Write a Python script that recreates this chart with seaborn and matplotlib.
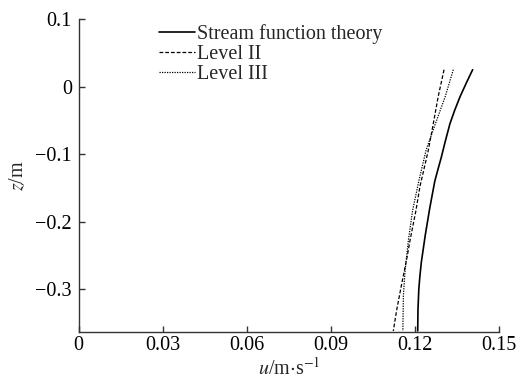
import matplotlib
matplotlib.use("Agg")
import matplotlib.pyplot as plt
import seaborn as sns
import pandas as pd

# Horizontal velocity profiles u(z) under the wave crest
z_stream = [0.025, 0.005, -0.015, -0.035, -0.055, -0.080, -0.105, -0.120, -0.140, -0.160,
            -0.180, -0.200, -0.220, -0.240, -0.260, -0.280, -0.300, -0.330, -0.362]
u_stream = [0.1405, 0.1382, 0.1360, 0.1341, 0.1324, 0.1308, 0.1293, 0.1283, 0.1270, 0.1261,
            0.1252, 0.1244, 0.1236, 0.1229, 0.1222, 0.1217, 0.1213, 0.1210, 0.1209]

z_level2 = [0.025, -0.015, -0.054, -0.094, -0.148, -0.183, -0.227, -0.255, -0.292, -0.331, -0.362]
u_level2 = [0.1303, 0.1282, 0.1265, 0.1247, 0.1217, 0.1203, 0.1182, 0.1170, 0.1152, 0.1134, 0.1122]

z_level3 = [0.025, -0.015, -0.054, -0.094, -0.138, -0.183, -0.227, -0.272, -0.309, -0.362]
u_level3 = [0.1336, 0.1307, 0.1273, 0.1239, 0.1214, 0.1191, 0.1176, 0.1164, 0.1158, 0.1156]

labels = ["Stream function theory", "Level II", "Level III"]
x_ticks = [0, 0.03, 0.06, 0.09, 0.12, 0.15]
x_tick_labels = ["0", "0.03", "0.06", "0.09", "0.12", "0.15"]
y_ticks = [0.1, 0, -0.1, -0.2, -0.3]
y_tick_labels = ["0.1", "0", "\u22120.1", "\u22120.2", "\u22120.3"]

sns.set_theme(style="ticks")
plt.rcParams["font.family"] = ["Liberation Serif", "DejaVu Serif"]
plt.rcParams["mathtext.fontset"] = "stix"
plt.rcParams["axes.unicode_minus"] = True

fig = plt.figure(figsize=(5.22, 3.81), dpi=100)
ax = fig.add_axes([0.1508, 0.1286, 0.8057, 0.8214])

series = [
    (u_stream, z_stream, labels[0], "-", 1.2),
    (u_level2, z_level2, labels[1], (0, (3.0, 1.6)), 0.9),
    (u_level3, z_level3, labels[2], (0, (1.0, 1.0)), 0.9),
]
for u, z, lab, ls, lw in series:
    df = pd.DataFrame({"u": u, "z": z})
    sns.lineplot(data=df, x="u", y="z", sort=False, estimator=None,
                 color="black", linestyle=ls, linewidth=lw, label=lab, ax=ax)

ax.set_xlim(0, 0.15)
ax.set_ylim(-0.3635, 0.1)
ax.set_xticks(x_ticks)
ax.set_xticklabels(x_tick_labels)
ax.set_yticks(y_ticks)
ax.set_yticklabels(y_tick_labels)

for side in ("top", "right"):
    ax.spines[side].set_visible(False)
for side in ("left", "bottom"):
    ax.spines[side].set_linewidth(1.0)
    ax.spines[side].set_color("#333333")

ax.tick_params(axis="both", direction="in", length=4, width=1.0, color="#333333",
               labelsize=14.5, labelcolor="black")
ax.tick_params(axis="x", pad=3)
ax.tick_params(axis="y", pad=5)

ax.set_xlabel(r"$\it{u}$/m$\cdot$s$^{-1}$", fontsize=14.5, labelpad=1.5)
ax.set_ylabel(r"$\it{z}$/m", fontsize=14.5, labelpad=5)

leg = ax.legend(loc="upper left", bbox_to_anchor=(0.19, 0.984), frameon=False,
                fontsize=14.5, handlelength=1.8, handletextpad=0.1,
                labelspacing=0.05, borderpad=0.0, borderaxespad=0.0)

fig.savefig("out.png", dpi=100)
